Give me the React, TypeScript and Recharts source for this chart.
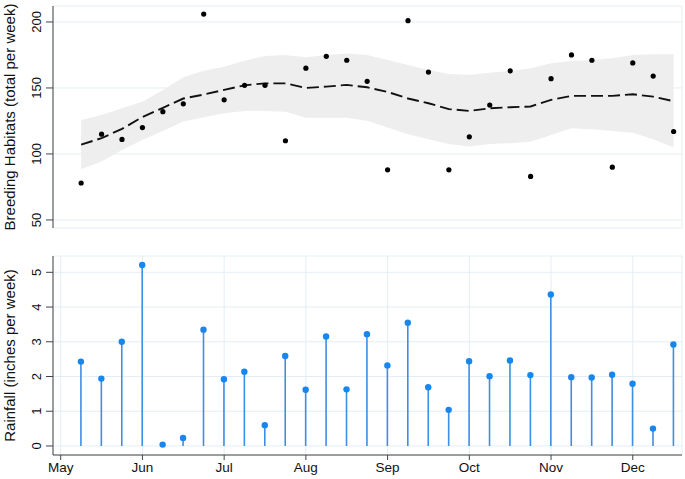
import { Area, Bar, CartesianGrid, ComposedChart, Label, Line, Scatter, XAxis, YAxis } from 'recharts';

// weeks counted from start of May, 4 weeks per month
const weeks = [1, 2, 3, 4, 5, 6, 7, 8, 9, 10, 11, 12, 13, 14, 15, 16, 17, 18, 19, 20, 21, 22, 23, 24, 25, 26, 27, 28, 29, 30];
const months = ['May', 'Jun', 'Jul', 'Aug', 'Sep', 'Oct', 'Nov', 'Dec'];
const monthTicks = [0, 4, 8, 12, 16, 20, 24, 28];

const breeding = [78, 115, 111, 120, 132, 138, 206, 141, 152, 152, 110, 165, 174, 171, 155, 88, 201, 162, 88, 113, 137, 163, 83, 157, 175, 171, 90, 169, 159, 117];
const fitted = [107, 112, 119, 128, 135, 142, 145, 148.5, 152, 153.5, 153.5, 150, 151, 152.3, 150.5, 147, 142, 138.4, 134, 132.6, 134.6, 135.4, 136, 141, 144, 144, 144, 145.2, 143.4, 140];
const upper = [125.8, 129.5, 134.6, 139.6, 148.5, 158.1, 163, 166, 170.7, 174.2, 175, 173.2, 175, 176.2, 175, 171.2, 167.4, 163.6, 160.6, 159.8, 161.6, 162.9, 164.9, 168.7, 170.5, 171.2, 172.5, 175, 175.5, 175.5];
const lower = [88.4, 94.2, 103, 110.6, 117.4, 124.5, 127.8, 130.8, 132.6, 132.6, 132, 127.5, 127.5, 127.5, 125.2, 120, 115, 111.1, 107.6, 105.6, 107.6, 108.1, 109.3, 114.4, 119.5, 118.7, 117.4, 116.1, 111.1, 104.9];
const rainfall = [2.43, 1.94, 3.0, 5.21, 0.04, 0.23, 3.35, 1.92, 2.14, 0.6, 2.59, 1.62, 3.15, 1.63, 3.22, 2.32, 3.55, 1.69, 1.04, 2.44, 2.01, 2.46, 2.04, 4.36, 1.98, 1.97, 2.05, 1.79, 0.5, 2.92];

const habitatTicks = [50, 100, 150, 200];
const rainTicks = [0, 1, 2, 3, 4, 5];

const topData = weeks.map((w, i) => ({ week: w, count: breeding[i], fit: fitted[i], band: [lower[i], upper[i]] }));
const bottomData = weeks.map((w, i) => ({ week: w, rain: rainfall[i] }));

const FONT = '"Liberation Sans", Arial, Helvetica, sans-serif';
const GRID = '#e3eef4';
const AXIS = '#444';
const X_DOMAIN: [number, number] = [-0.377, 30.41];

const YTick = ({ y, payload }: any) => (
  <text x={41.5} y={y} transform={`rotate(-90 41.5 ${y})`} textAnchor="middle" fontSize={13} fontFamily={FONT} fill="#111">
    {payload.value}
  </text>
);

const axisTitle = (text: string, cy: number) => () => (
  <text x={15} y={cy} transform={`rotate(-90 15 ${cy})`} textAnchor="middle" fontSize={15} fontFamily={FONT} fill="#111">
    {text}
  </text>
);

const Dot = ({ cx, cy }: any) => <circle cx={cx} cy={cy} r={2.6} fill="#000" />;

const Lollipop = ({ x, y, width, height }: any) => {
  const cx = x + width / 2;
  return (
    <g>
      <line x1={cx} x2={cx} y1={y} y2={y + height} stroke="#3d8ee6" strokeWidth={1.6} />
      <circle cx={cx} cy={y} r={3.2} fill="#1687f0" />
    </g>
  );
};

export default function App() {
  return (
    <div style={{ position: 'absolute', left: 0, top: 0, width: 685, height: 479, background: '#fff' }}>
      <div style={{ position: 'absolute', left: 0, top: 0 }}>
        <ComposedChart width={685} height={236} data={topData} margin={{ top: 6, right: 3, bottom: 8, left: 0 }}>
          <CartesianGrid stroke={GRID} strokeWidth={1} />
          <XAxis
            dataKey="week"
            type="number"
            domain={X_DOMAIN}
            allowDataOverflow
            ticks={monthTicks}
            height={0}
            tick={false}
            axisLine={false}
            tickLine={false}
          />
          <YAxis
            type="number"
            domain={[43.9, 212.1]}
            allowDataOverflow
            ticks={habitatTicks}
            width={53}
            tick={<YTick />}
            tickSize={7}
            stroke={AXIS}
          >
            <Label content={axisTitle('Breeding Habitats (total per week)', 117)} />
          </YAxis>
          <Area dataKey="band" type="linear" stroke="none" fill="#eeeeee" fillOpacity={1} isAnimationActive={false} />
          <Line dataKey="fit" type="linear" stroke="#111" strokeWidth={1.9} strokeDasharray="12 5" dot={false} isAnimationActive={false} />
          <Scatter dataKey="count" fill="#000" shape={<Dot />} isAnimationActive={false} />
        </ComposedChart>
      </div>
      <div style={{ position: 'absolute', left: 0, top: 248 }}>
        <ComposedChart width={685} height={231} data={bottomData} margin={{ top: 8, right: 3, bottom: 0, left: 0 }}>
          <CartesianGrid stroke={GRID} strokeWidth={1} />
          <XAxis
            dataKey="week"
            type="number"
            domain={X_DOMAIN}
            allowDataOverflow
            ticks={monthTicks}
            tickFormatter={(v: number) => months[v / 4]}
            height={24}
            tickSize={5}
            tickMargin={2}
            stroke={AXIS}
            tick={{ fontSize: 13.5, fontFamily: FONT, fill: '#111' }}
          />
          <YAxis
            type="number"
            domain={[-0.26, 5.47]}
            allowDataOverflow
            ticks={rainTicks}
            width={53}
            tick={<YTick />}
            tickSize={7}
            stroke={AXIS}
          >
            <Label content={axisTitle('Rainfall (inches per week)', 107.5)} />
          </YAxis>
          <Bar dataKey="rain" barSize={2} shape={<Lollipop />} isAnimationActive={false} />
        </ComposedChart>
      </div>
    </div>
  );
}
